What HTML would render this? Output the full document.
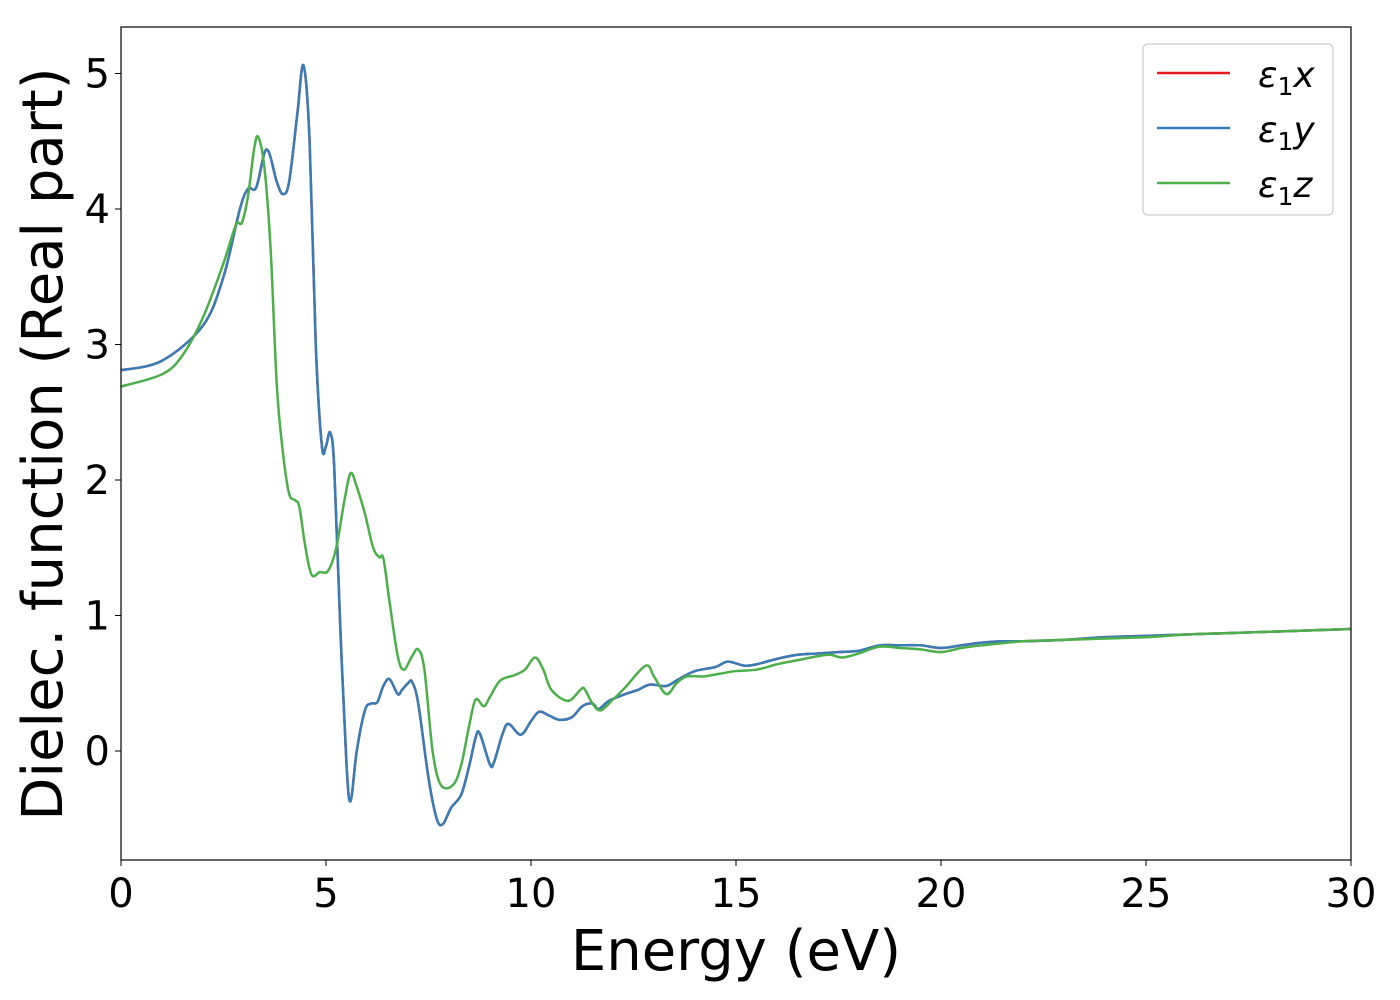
<!DOCTYPE html>
<html><head><meta charset="utf-8"><style>body{margin:0;background:#fff}svg{display:block;font-family:"DejaVu Sans","Liberation Sans",sans-serif}</style></head>
<body>
<svg width="1400" height="1000" viewBox="0 0 1400 1000" xmlns="http://www.w3.org/2000/svg">
<rect width="1400" height="1000" fill="#fff"/>
<g id="plot"></g>
<rect x="121" y="27" width="1230" height="833" fill="none" stroke="#000" stroke-width="1.2"/>
<g id="xt"></g>
<g id="yt"></g>
<text x="736" y="970" font-size="56" text-anchor="middle">Energy (eV)</text>
<text transform="translate(62,444) rotate(-90)" font-size="56" text-anchor="middle">Dielec. function (Real part)</text>
<g>
<rect x="1143" y="44" width="190" height="171" rx="5" fill="#fff" stroke="#ccc" stroke-width="1.2"/>
<g><line x1="1157" y1="73" x2="1230" y2="73" stroke="#e41a1c" stroke-width="2.5"/><text x="1258" y="87" font-size="36" font-style="italic">ε<tspan font-size="25" dy="8" font-style="normal">1</tspan><tspan dy="-8">x</tspan></text></g>
<g><line x1="1157" y1="128" x2="1230" y2="128" stroke="#377eb8" stroke-width="2.5"/><text x="1258" y="142" font-size="36" font-style="italic">ε<tspan font-size="25" dy="8" font-style="normal">1</tspan><tspan dy="-8">y</tspan></text></g>
<g><line x1="1157" y1="183" x2="1230" y2="183" stroke="#4daf4a" stroke-width="2.5"/><text x="1258" y="197" font-size="36" font-style="italic">ε<tspan font-size="25" dy="8" font-style="normal">1</tspan><tspan dy="-8">z</tspan></text></g>
</g>
</svg>
<script>
const xyE=[0,1,2,2.5,2.9,3.1,3.3,3.55,3.8,3.95,4.1,4.3,4.45,4.6,4.75,4.9,5.0,5.1,5.2,5.35,5.5,5.6,5.75,5.95,6.1,6.25,6.4,6.55,6.75,6.85,7.0,7.1,7.25,7.5,7.7,7.85,8.05,8.3,8.5,8.65,8.75,9.0,9.1,9.3,9.45,9.75,10.0,10.2,10.45,10.7,11.0,11.25,11.5,11.65,11.9,12.3,12.6,12.9,13.3,13.6,14.0,14.5,14.8,15.2,15.5,16,16.5,17,17.5,18,18.5,19,19.5,20,20.5,21,21.5,22,23,24,25,26,27,28,29,30];
const xyV=[2.81,2.88,3.14,3.5,4.0,4.15,4.16,4.44,4.2,4.11,4.2,4.7,5.06,4.5,3.0,2.25,2.25,2.35,2.1,0.9,-0.1,-0.37,0.0,0.3,0.35,0.36,0.48,0.53,0.42,0.45,0.5,0.51,0.35,-0.2,-0.5,-0.54,-0.42,-0.32,-0.1,0.1,0.13,-0.1,-0.08,0.12,0.2,0.12,0.22,0.29,0.26,0.23,0.25,0.33,0.35,0.31,0.37,0.42,0.45,0.49,0.48,0.53,0.59,0.62,0.66,0.63,0.64,0.68,0.71,0.72,0.73,0.74,0.78,0.78,0.78,0.76,0.78,0.8,0.81,0.81,0.82,0.84,0.85,0.86,0.87,0.88,0.89,0.9];
const zE=[0,1,1.5,2.0,2.5,2.8,2.95,3.1,3.25,3.35,3.5,3.65,3.8,3.95,4.1,4.25,4.35,4.5,4.65,4.85,5.05,5.25,5.45,5.6,5.75,5.95,6.15,6.3,6.4,6.55,6.75,6.9,7.1,7.25,7.4,7.6,7.8,8.1,8.3,8.5,8.65,8.85,9.0,9.25,9.6,9.85,10.1,10.3,10.5,10.9,11.2,11.3,11.5,11.7,12.0,12.3,12.8,13.0,13.3,13.55,13.8,14.2,14.6,15,15.5,16,16.5,17,17.3,17.6,18,18.5,19,19.5,20,20.5,21,22,23,24,25,26,27,28,30];
const zV=[2.69,2.78,2.92,3.2,3.6,3.88,3.9,4.1,4.45,4.53,4.3,3.7,2.7,2.2,1.9,1.85,1.8,1.5,1.3,1.32,1.33,1.5,1.85,2.05,1.95,1.75,1.5,1.43,1.42,1.1,0.7,0.6,0.7,0.75,0.6,0.0,-0.25,-0.25,-0.1,0.2,0.38,0.33,0.4,0.52,0.56,0.6,0.69,0.6,0.45,0.37,0.45,0.46,0.35,0.3,0.38,0.47,0.63,0.55,0.42,0.5,0.55,0.55,0.57,0.59,0.6,0.64,0.67,0.7,0.71,0.69,0.72,0.77,0.76,0.75,0.73,0.76,0.78,0.81,0.82,0.83,0.84,0.86,0.87,0.88,0.9];
const xTicks=[0,5,10,15,20,25,30];
const yTicks=[0,1,2,3,4,5];
const NS="http://www.w3.org/2000/svg";
function sx(e){return 121+e*41;}
function sy(v){return 751-v*135.5;}
function path(E,V){
  const p=E.map((e,i)=>[sx(e),sy(V[i])]);
  let d="M"+p[0][0]+","+p[0][1];
  for(let i=0;i<p.length-1;i++){
    const p0=p[i-1]||p[i],p1=p[i],p2=p[i+1],p3=p[i+2]||p2;
    const c1=[p1[0]+(p2[0]-p0[0])/6,p1[1]+(p2[1]-p0[1])/6];
    const c2=[p2[0]-(p3[0]-p1[0])/6,p2[1]-(p3[1]-p1[1])/6];
    d+=" C"+c1+" "+c2+" "+p2;
  }
  return d;
}
const plot=document.getElementById('plot');
[["series-x",xyE,xyV,"#e41a1c"],["series-y",xyE,xyV,"#377eb8"],["series-z",zE,zV,"#4daf4a"]].forEach(s=>{
  const el=document.createElementNS(NS,'path');
  
  
  el.setAttribute('d',path(s[1],s[2]));
  el.setAttribute('fill','none');el.setAttribute('stroke',s[3]);el.setAttribute('stroke-width','2.5');
  plot.appendChild(el);
});
const xt=document.getElementById('xt');
xTicks.forEach(t=>{
  const l=document.createElementNS(NS,'line');
  
  
  l.setAttribute('x1',sx(t));l.setAttribute('x2',sx(t));l.setAttribute('y1',860);l.setAttribute('y2',866);l.setAttribute('stroke','#000');
  xt.appendChild(l);
  const tx=document.createElementNS(NS,'text');
  
  
  tx.setAttribute('x',sx(t));tx.setAttribute('y',907);tx.setAttribute('font-size','40');tx.setAttribute('text-anchor','middle');
  tx.textContent=t;xt.appendChild(tx);
});
const yt=document.getElementById('yt');
yTicks.forEach(t=>{
  const l=document.createElementNS(NS,'line');
  
  
  l.setAttribute('x1',115);l.setAttribute('x2',121);l.setAttribute('y1',sy(t));l.setAttribute('y2',sy(t));l.setAttribute('stroke','#000');
  yt.appendChild(l);
  const tx=document.createElementNS(NS,'text');
  
  
  tx.setAttribute('x',110);tx.setAttribute('y',sy(t)+14);tx.setAttribute('font-size','40');tx.setAttribute('text-anchor','end');
  tx.textContent=t;yt.appendChild(tx);
});
</script>
</body></html>
